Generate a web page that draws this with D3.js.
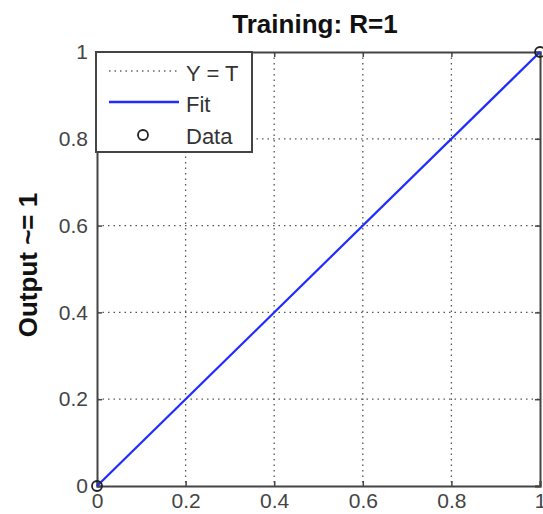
<!DOCTYPE html>
<html>
<head>
<meta charset="utf-8">
<script src="https://cdn.jsdelivr.net/npm/d3@7"></script>
<style>
body { margin: 0; background: #fff; }
svg { font-family: Arial, "Liberation Sans", sans-serif; }
</style>
</head>
<body>
<svg id="canvas"></svg>
<script>
const xTicks = [0, 0.2, 0.4, 0.6, 0.8, 1];
const yTicks = [0, 0.2, 0.4, 0.6, 0.8, 1];
const targets = [0, 1];
const outputs = [0, 1];
const fitLine = [[0, 0], [1, 1]];
const identityLine = [[0, 0], [1, 1]];
const legendItems = ["Y = T", "Fit", "Data"];

const margins = { top: 52, right: 3, bottom: 28, left: 97 };
const width = 543 - margins.left - margins.right;
const height = 514 - margins.top - margins.bottom;

const svg = d3.select("#canvas")
    .attr("width", 543)
    .attr("height", 514);

const g = svg.append("g")
    .attr("transform", "translate(" + margins.left + "," + margins.top + ")");

const x = d3.scaleLinear().domain([0, 1]).range([0, width]);
const y = d3.scaleLinear().domain([0, 1]).range([height, 0]);

// grid
g.append("g")
    .selectAll("line")
    .data(xTicks.slice(1, -1))
    .enter()
    .append("line")
    .attr("x1", d => x(d)).attr("x2", d => x(d))
    .attr("y1", 0).attr("y2", height)
    .attr("stroke", "#555")
    .attr("stroke-width", 1.3)
    .attr("stroke-dasharray", "1.5,4");

g.append("g")
    .selectAll("line")
    .data(yTicks.slice(1, -1))
    .enter()
    .append("line")
    .attr("y1", d => y(d)).attr("y2", d => y(d))
    .attr("x1", 0).attr("x2", width)
    .attr("stroke", "#555")
    .attr("stroke-width", 1.3)
    .attr("stroke-dasharray", "1.5,4");

// axes
g.append("g")
    .attr("transform", "translate(0," + height + ")")
    .call(d3.axisBottom(x).tickValues(xTicks).tickFormat(d3.format("")).tickSize(-5).tickPadding(7));

g.append("g")
    .call(d3.axisLeft(y).tickValues(yTicks).tickFormat(d3.format("")).tickSize(-5).tickPadding(9));

g.append("g")
    .call(d3.axisTop(x).tickValues(xTicks).tickFormat("").tickSize(-5));
g.append("g")
    .attr("transform", "translate(" + width + ",0)")
    .call(d3.axisRight(y).tickValues(yTicks).tickFormat("").tickSize(-5));

g.selectAll(".domain").attr("stroke", "#444").attr("stroke-width", 2);
g.selectAll(".tick line").attr("stroke", "#444").attr("stroke-width", 1.5);
g.selectAll(".tick text").attr("fill", "#444").style("font-size", "21px");

// identity line
const line = d3.line().x(d => x(d[0])).y(d => y(d[1]));
g.append("path")
    .attr("d", line(identityLine))
    .attr("fill", "none")
    .attr("stroke", "#555")
    .attr("stroke-dasharray", "1.5,3");

// fit
g.append("path")
    .attr("d", line(fitLine))
    .attr("fill", "none")
    .attr("stroke", "#1f2bff")
    .attr("stroke-width", 2.2);

// data
g.append("g")
    .selectAll("circle")
    .data(targets)
    .enter()
    .append("circle")
    .attr("cx", d => x(d))
    .attr("cy", (d, i) => y(outputs[i]))
    .attr("r", 5)
    .attr("fill", "none")
    .attr("stroke", "#222")
    .attr("stroke-width", 1.8);

// legend
const legend = g.append("g");
legend.append("rect")
    .attr("x", -1).attr("y", 0)
    .attr("width", 156).attr("height", 100)
    .attr("fill", "#fff")
    .attr("stroke", "#444")
    .attr("stroke-width", 2);

const rowY = [19, 50, 82];
legendItems.forEach((label, i) => {
    const row = legend.append("g").attr("transform", "translate(0," + rowY[i] + ")");
    if (i === 0) {
        row.append("line").attr("x1", 12).attr("x2", 82).attr("y1", 0).attr("y2", 0)
            .attr("stroke", "#666").attr("stroke-width", 1.3).attr("stroke-dasharray", "1.5,4");
    } else if (i === 1) {
        row.append("line").attr("x1", 12).attr("x2", 82).attr("y1", 0).attr("y2", 0)
            .attr("stroke", "#1f2bff").attr("stroke-width", 2.5);
    } else {
        row.append("circle").attr("cx", 46).attr("cy", 1).attr("r", 5)
            .attr("fill", "none").attr("stroke", "#222").attr("stroke-width", 1.8);
    }
    row.append("text")
        .attr("x", 89).attr("y", 10)
        .attr("fill", "#333")
        .style("font-size", "22px")
        .text(label);
});

// title
svg.append("text")
    .attr("x", 315)
    .attr("y", 33)
    .attr("text-anchor", "middle")
    .attr("fill", "#111")
    .style("font-size", "26px")
    .style("font-weight", "bold")
    .text("Training: R=1");

svg.append("text")
    .attr("transform", "translate(37," + 265 + ") rotate(-90)")
    .attr("text-anchor", "middle")
    .attr("fill", "#111")
    .style("font-size", "26px")
    .style("font-weight", "bold")
    .text("Output ~= 1");
</script>
</body>
</html>
